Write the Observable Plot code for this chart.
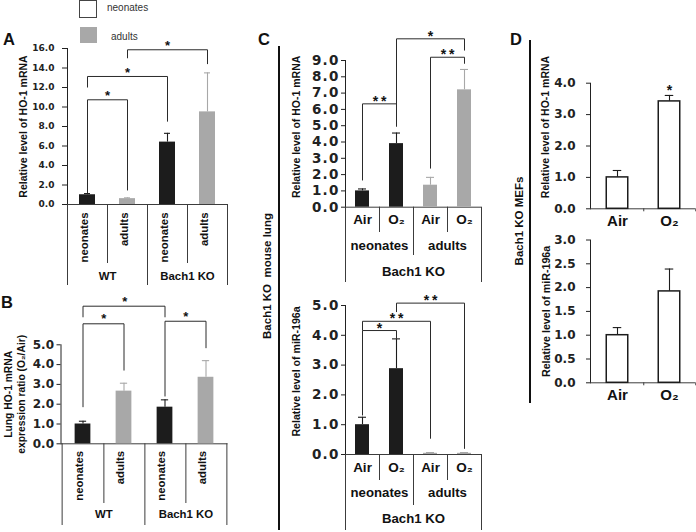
<!DOCTYPE html>
<html>
<head>
<meta charset="utf-8">
<script src="https://cdn.jsdelivr.net/npm/d3@7"></script>
<script src="https://cdn.jsdelivr.net/npm/@observablehq/plot@0.6"></script>
<style>
  body { margin: 0; background: #fff; }
  #fig { position: relative; width: 696px; height: 532px; overflow: hidden; background: #fff; }
  #fig svg { position: absolute; overflow: visible; }
  .cticks g[aria-label="y-axis tick label"] { letter-spacing: 1.2px; }
</style>
</head>
<body>
<div id="fig"></div>
<script>
// ---------------- Panel A : HO-1 mRNA, WT vs Bach1 KO ----------------
const aCategories = ["WT neonates", "WT adults", "Bach1 KO neonates", "Bach1 KO adults"];
const aTickLabels = ["neonates", "adults", "neonates", "adults"];
const aGroups = ["WT", "WT", "Bach1 KO", "Bach1 KO"];
const aValues = [1.0, 0.6, 6.4, 9.5];
const aErrors = [0.12, 0.08, 0.9, 4.0];
const aYTicks = [0, 2, 4, 6, 8, 10, 12, 14, 16];
const aBracketFrom = ["WT neonates", "WT neonates", "WT adults"];
const aBracketTo = ["WT adults", "Bach1 KO neonates", "Bach1 KO adults"];
const aBracketLevel = [10.74, 13.13, 15.87];
const aBracketLeftEnd = [1.13, 12.0, 15.0];
const aBracketRightEnd = [1.44, 8.5, 14.4];
const aBracketLabel = ["*", "*", "*"];

// ---------------- Panel B : expression ratio O2/Air ----------------
const bValues = [1.0, 2.66, 1.85, 3.36];
const bErrors = [0.14, 0.40, 0.37, 0.84];
const bYTicks = [0, 1, 2, 3, 4, 5];
const bBracketFrom = ["WT neonates", "WT neonates", "Bach1 KO neonates"];
const bBracketTo = ["WT adults", "Bach1 KO neonates", "Bach1 KO adults"];
const bBracketLevel = [6.06, 6.95, 6.19];
const bBracketLeftEnd = [1.85, 6.39, 2.39];
const bBracketRightEnd = [3.70, 6.39, 4.83];
const bBracketLabel = ["*", "*", "*"];

// ---------------- Panel C : Bach1 KO mouse lung ----------------
const cCategories = ["neonates Air", "neonates O2", "adults Air", "adults O2"];
const cTickLabels = ["Air", "O₂", "Air", "O₂"];
const cGroups = ["neonates", "neonates", "adults", "adults"];
const cHoValues = [1.0, 3.9, 1.35, 7.2];
const cHoErrors = [0.12, 0.65, 0.48, 1.25];
const cHoYTicks = [0, 1, 2, 3, 4, 5, 6, 7, 8, 9];
const cHoBracketFrom = ["neonates Air", "neonates O2", "adults Air"];
const cHoBracketTo = ["neonates O2", "adults O2", "adults O2"];
const cHoBracketLevel = [6.34, 10.33, 9.2];
const cHoBracketLeftEnd = [1.64, 4.95, 2.37];
const cHoBracketRightEnd = [4.95, 9.61, 8.8];
const cHoBracketLabel = ["**", "*", "**"];

const cMirValues = [1.0, 2.88, 0.04, 0.04];
const cMirErrors = [0.25, 1.0, 0.025, 0.025];
const cMirYTicks = [0, 1, 2, 3, 4, 5];
const cMirBracketFrom = ["neonates Air", "neonates Air", "neonates O2"];
const cMirBracketTo = ["neonates O2", "adults Air", "adults O2"];
const cMirBracketLevel = [4.16, 4.47, 5.08];
const cMirBracketLeftEnd = [1.31, 4.16, 4.78];
const cMirBracketRightEnd = [3.90, 0.53, 0.19];
const cMirBracketLabel = ["*", "**", "**"];

// ---------------- Panel D : Bach1 KO MEFs ----------------
const dCategories = ["Air", "O₂"];
const dHoValues = [1.0, 3.42];
const dHoErrors = [0.22, 0.19];
const dHoStars = ["", "*"];
const dHoYTicks = [0, 1, 2, 3, 4];
const dMirValues = [1.0, 1.92];
const dMirErrors = [0.16, 0.47];
const dMirYTicks = [0, 0.5, 1, 1.5, 2, 2.5, 3];

// ---------------- styling ----------------
const SANS = "'Liberation Sans', Arial, Helvetica, sans-serif";
const DJV = "'DejaVu Sans', Verdana, sans-serif";
const INK = "#111";
const AXIS = "#3c3c3c";
const BRACKET = "#2a2a2a";
const BLACK = "#1c1c1c";
const GRAY = "#a8a8a8";

const fig = document.getElementById("fig");

function drawPanel(o) {
  const n = o.cats.length;
  const fw = o.width - o.ml - o.mr;
  const fh = o.height - o.mt - o.mb;
  const step = fw / n;
  const rows = o.cats.map((cat, i) => ({
    cat,
    label: o.tickLabels[i],
    group: o.groups ? o.groups[i] : null,
    key: o.colorKeys ? o.colorKeys[i] : null,
    value: o.values[i],
    top: o.values[i] + o.errors[i],
    star: o.stars ? o.stars[i] : ""
  }));
  const inner = [], between = [];
  rows.slice(0, -1).forEach((r, i) => {
    (o.groups && r.group !== rows[i + 1].group ? between : inner).push(r);
  });
  const sep = (data, dx, len) => Plot.ruleX(data, {x: "cat", dx, insetTop: fh, insetBottom: -len, stroke: AXIS, strokeWidth: 1});
  const marks = [];
  if (o.sepInner) marks.push(sep(inner, step / 2, o.sepInner));
  if (o.sepGroup) marks.push(sep(between, step / 2, o.sepGroup));
  if (o.sepLeft) marks.push(sep(rows.slice(0, 1), -step / 2, o.sepLeft));
  if (o.sepRight) marks.push(sep(rows.slice(-1), step / 2, o.sepRight));
  marks.push(Plot.ruleY([0], {stroke: AXIS, strokeWidth: 1}));

  const barIn = (step - o.barWidth) / 2;
  const capIn = (step - o.capWidth) / 2;
  const barStyle = o.hollow ? {fill: "white", stroke: BLACK, strokeWidth: 1.5} : {fill: "key"};
  const errStroke = o.hollow ? BLACK : "key";
  marks.push(Plot.ruleX(rows, {x: "cat", y1: "value", y2: "top", stroke: errStroke, strokeWidth: 1.1}));
  marks.push(Plot.tickY(rows, {x: "cat", y: "top", stroke: errStroke, strokeWidth: 1.1, insetLeft: capIn, insetRight: capIn}));
  marks.push(Plot.barY(rows, {x: "cat", y: "value", insetLeft: barIn, insetRight: barIn, ...barStyle}));

  if (o.brFrom) {
    const idx = new Map(o.cats.map((c, i) => [c, i]));
    const brs = o.brFrom.map((from, i) => ({
      from, to: o.brTo[i], level: o.brLevel[i], left: o.brLeft[i], right: o.brRight[i], label: o.brLabel[i]
    }));
    const segs = [];
    brs.forEach(b => {
      segs.push({x1: b.from, y1: b.level, x2: b.to, y2: b.level});
      segs.push({x1: b.from, y1: b.level, x2: b.from, y2: b.left});
      segs.push({x1: b.to, y1: b.level, x2: b.to, y2: b.right});
    });
    marks.push(Plot.link(segs, {x1: "x1", y1: "y1", x2: "x2", y2: "y2", stroke: BRACKET, strokeWidth: 1}));
    brs.forEach(b => {
      const span = idx.get(b.to) - idx.get(b.from);
      marks.push(Plot.text([b], {
        x: "from", y: "level", text: d => d.label.split("").join("\u2009"),
        dx: span * step / 2, dy: -o.starGap + 0.23 * o.starSize,
        fontSize: o.starSize, fontWeight: "bold", fontFamily: SANS, fill: INK
      }));
    });
  }
  if (o.stars) {
    marks.push(Plot.text(rows.filter(r => r.star), {
      x: "cat", y: "top", text: "star", dy: -o.starGap + 0.23 * o.starSize,
      fontSize: o.starSize, fontWeight: "bold", fontFamily: SANS, fill: INK
    }));
  }
  // category labels
  marks.push(Plot.text(rows, {
    x: "cat", text: "label", frameAnchor: "bottom", dy: o.labelDy,
    rotate: o.rotate ? -90 : 0, textAnchor: o.rotate ? "end" : "middle",
    fontSize: o.labelSize, fontWeight: "bold", fontFamily: SANS, fill: INK
  }));
  if (o.groups) {
    const firsts = rows.filter((r, i) => i === 0 || rows[i - 1].group !== r.group);
    marks.push(Plot.text(firsts, {
      x: "cat", text: "group", frameAnchor: "bottom", dx: step / 2, dy: o.groupDy,
      textAnchor: "middle",
      fontSize: o.groupSize, fontWeight: "bold", fontFamily: SANS, fill: INK
    }));
  }
  if (o.axisLabel) {
    marks.push(Plot.text([o.axisLabel], {
      frameAnchor: "bottom", text: d => d, dy: o.axisLabelDy, textAnchor: "middle",
      fontSize: o.groupSize, fontWeight: "bold", fontFamily: SANS, fill: INK
    }));
  }
  // y title
  marks.push(Plot.text([o.title], {
    frameAnchor: "left", text: d => d, rotate: -90, dx: o.titleDx, dy: o.titleDy || 0,
    textAnchor: "middle", lineAnchor: "middle",
    fontSize: o.titleSize, fontWeight: "bold", fontFamily: SANS, fill: INK, lineHeight: 1.25
  }));

  const svg = Plot.plot({
    width: o.width, height: o.height,
    marginLeft: o.ml, marginRight: o.mr, marginTop: o.mt, marginBottom: o.mb,
    className: o.className,
    x: {type: "band", domain: o.cats, padding: 0, axis: null},
    y: {
      domain: [0, o.ymax], ticks: o.yticks, tickFormat: d3.format(".1f"),
      tickSize: o.tickSize, tickPadding: o.tickPadding, line: true, label: null
    },
    color: {type: "ordinal", domain: ["neonates", "adults"], range: [BLACK, GRAY]},
    style: {
      fontFamily: DJV, fontSize: o.tickFontSize + "px", fontWeight: "bold",
      color: "#222", background: "transparent", overflow: "visible"
    },
    marks
  });
  svg.style.position = "absolute";
  svg.style.left = o.left + "px";
  svg.style.top = o.top + "px";
  fig.appendChild(svg);
  return svg;
}

// ---------- annotation layer (legend, panel letters, side labels) ----------
const ann = d3.select(fig).append("svg")
  .attr("width", 696).attr("height", 532)
  .style("left", "0px").style("top", "0px");
ann.append("rect").attr("x", 79.5).attr("y", 0.5).attr("width", 17).attr("height", 17)
  .attr("fill", "white").attr("stroke", "#444").attr("stroke-width", 1);
ann.append("rect").attr("x", 80).attr("y", 27).attr("width", 17).attr("height", 16)
  .attr("fill", GRAY);
ann.append("text").attr("x", 107).attr("y", 10.5).text("neonates")
  .attr("font-family", SANS).attr("font-size", 10).attr("fill", "#333");
ann.append("text").attr("x", 111).attr("y", 39.5).text("adults")
  .attr("font-family", SANS).attr("font-size", 10).attr("fill", "#333");
[["A", 3, 45], ["B", 1, 308], ["C", 258, 45], ["D", 510, 45]].forEach(([t, x, y]) => {
  ann.append("text").attr("x", x).attr("y", y).text(t)
    .attr("font-family", SANS).attr("font-size", 16.5).attr("font-weight", "bold").attr("fill", INK);
});
ann.append("line").attr("x1", 279).attr("x2", 279).attr("y1", 46).attr("y2", 530)
  .attr("stroke", "#111").attr("stroke-width", 2);
ann.append("line").attr("x1", 530).attr("x2", 530).attr("y1", 40).attr("y2", 403)
  .attr("stroke", "#111").attr("stroke-width", 2);
[["Bach1 KO\u00a0\u00a0mouse lung", 267, 276], ["Bach1 KO MEFs", 519, 221]].forEach(([t, x, y]) => {
  ann.append("text").attr("transform", `translate(${x},${y}) rotate(-90)`)
    .attr("text-anchor", "middle").attr("dy", "0.35em").text(t)
    .attr("font-family", SANS).attr("font-size", 11.5).attr("font-weight", "bold").attr("fill", INK);
});

// ---------- Panel A ----------
drawPanel({
  left: 0, top: 20, width: 232, height: 270, ml: 67, mr: 5, mt: 28, mb: 86,
  cats: aCategories, tickLabels: aTickLabels, groups: aGroups, colorKeys: aTickLabels,
  values: aValues, errors: aErrors, ymax: 16, yticks: aYTicks,
  tickFontSize: 9, tickSize: 5, tickPadding: 8,
  barWidth: 16, capWidth: 6,
  brFrom: aBracketFrom, brTo: aBracketTo, brLevel: aBracketLevel, brLeft: aBracketLeftEnd, brRight: aBracketRightEnd, brLabel: aBracketLabel,
  starSize: 13, starGap: 6.5,
  rotate: true, labelDy: 8, labelSize: 11.4, groupDy: 75, groupSize: 11.4,
  sepInner: 59, sepGroup: 81, sepLeft: 81, sepRight: 81,
  title: "Relative level of HO-1 mRNA", titleSize: 10.5, titleDx: -45, titleDy: 0
});

// ---------- Panel B ----------
drawPanel({
  left: 0, top: 285, width: 232, height: 243, ml: 60.5, mr: 4.5, mt: 59.3, mb: 84.7,
  cats: aCategories, tickLabels: aTickLabels, groups: aGroups, colorKeys: aTickLabels,
  values: bValues, errors: bErrors, ymax: 5, yticks: bYTicks,
  tickFontSize: 12, tickSize: 4, tickPadding: 3,
  barWidth: 16.5, capWidth: 8,
  brFrom: bBracketFrom, brTo: bBracketTo, brLevel: bBracketLevel, brLeft: bBracketLeftEnd, brRight: bBracketRightEnd, brLabel: bBracketLabel,
  starSize: 13, starGap: 7.5,
  rotate: true, labelDy: 7, labelSize: 11.4, groupDy: 73.7, groupSize: 11.4,
  sepInner: 59.7, sepGroup: 81.7, sepLeft: 81.7, sepRight: 81.7,
  title: "Lung HO-1 mRNA\nexpression ratio (O₂/Air)", titleSize: 10.3, titleDx: -47, titleDy: 0
});

// ---------- Panel C (top) ----------
drawPanel({
  left: 284, top: 20, width: 205, height: 267, ml: 61, mr: 8, mt: 40, mb: 80.3,
  className: "cticks",
  cats: cCategories, tickLabels: cTickLabels, groups: cGroups, colorKeys: cGroups,
  values: cHoValues, errors: cHoErrors, ymax: 9, yticks: cHoYTicks,
  tickFontSize: 13.5, tickSize: 4, tickPadding: 2,
  barWidth: 14, capWidth: 8,
  brFrom: cHoBracketFrom, brTo: cHoBracketTo, brLevel: cHoBracketLevel, brLeft: cHoBracketLeftEnd, brRight: cHoBracketRightEnd, brLabel: cHoBracketLabel,
  starSize: 14, starGap: 6,
  rotate: false, labelDy: 16.3, labelSize: 13.5, groupDy: 42.3, groupSize: 13.2,
  axisLabel: "Bach1 KO", axisLabelDy: 68.3,
  sepInner: 25.3, sepGroup: 48.3, sepLeft: 75.3, sepRight: 75.3,
  title: "Relative level of HO-1 mRNA", titleSize: 10.5, titleDx: -50, titleDy: -7
});

// ---------- Panel C (bottom) ----------
drawPanel({
  left: 284, top: 287, width: 205, height: 244, ml: 61, mr: 8, mt: 18, mb: 77,
  className: "cticks",
  cats: cCategories, tickLabels: cTickLabels, groups: cGroups, colorKeys: cGroups,
  values: cMirValues, errors: cMirErrors, ymax: 5, yticks: cMirYTicks,
  tickFontSize: 13.5, tickSize: 4, tickPadding: 2,
  barWidth: 14, capWidth: 8,
  brFrom: cMirBracketFrom, brTo: cMirBracketTo, brLevel: cMirBracketLevel, brLeft: cMirBracketLeftEnd, brRight: cMirBracketRightEnd, brLabel: cMirBracketLabel,
  starSize: 14, starGap: 5.5,
  rotate: false, labelDy: 17, labelSize: 13.5, groupDy: 42.7, groupSize: 13.2,
  axisLabel: "Bach1 KO", axisLabelDy: 68,
  sepInner: 26, sepGroup: 51, sepLeft: 76, sepRight: 76,
  title: "Relative level of miR-196a", titleSize: 10.6, titleDx: -50, titleDy: -8.5
});

// ---------- Panel D (top) ----------
drawPanel({
  left: 536, top: 60, width: 160, height: 175, ml: 54, mr: 1, mt: 22.7, mb: 26.7,
  cats: dCategories, tickLabels: dCategories, hollow: true, stars: dHoStars,
  values: dHoValues, errors: dHoErrors, ymax: 4, yticks: dHoYTicks,
  tickFontSize: 12, tickSize: 4, tickPadding: 11,
  barWidth: 22, capWidth: 9,
  starSize: 14, starGap: 8,
  rotate: false, labelDy: 16.7, labelSize: 15,
  sepInner: 3, sepRight: 3,
  title: "Relative level of HO-1 mRNA", titleSize: 10.5, titleDx: -46, titleDy: -19
});

// ---------- Panel D (bottom) ----------
drawPanel({
  left: 536, top: 232, width: 160, height: 178, ml: 54, mr: 1, mt: 7.5, mb: 27.7,
  cats: dCategories, tickLabels: dCategories, hollow: true,
  values: dMirValues, errors: dMirErrors, ymax: 3, yticks: dMirYTicks,
  tickFontSize: 12, tickSize: 4, tickPadding: 11,
  barWidth: 22, capWidth: 9,
  starSize: 14, starGap: 8,
  rotate: false, labelDy: 17, labelSize: 15,
  sepInner: 3, sepRight: 3,
  title: "Relative level of miR-196a", titleSize: 10.7, titleDx: -45, titleDy: 0
});
</script>
</body>
</html>
